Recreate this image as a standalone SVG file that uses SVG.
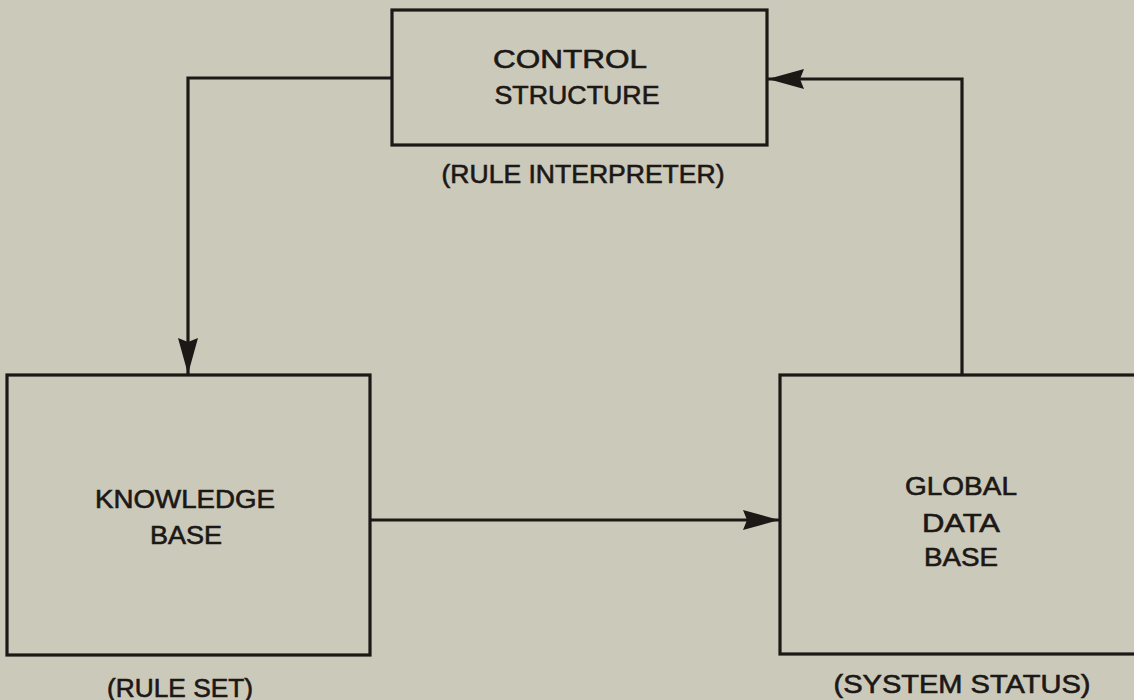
<svg xmlns="http://www.w3.org/2000/svg" width="1134" height="700" viewBox="0 0 1134 700">
<style>
.box{fill:none;stroke:#1c1816;stroke-width:3.2}
.wire{fill:none;stroke:#1c1816;stroke-width:3.2;stroke-linejoin:miter}
.t{font-family:"Liberation Sans",Arial,sans-serif;font-size:25px;fill:#1c1816;stroke:#1c1816;stroke-width:0.6;text-anchor:middle}
</style>
<defs>
<marker id="ah" markerUnits="userSpaceOnUse" markerWidth="38" markerHeight="22" refX="36" refY="10" orient="auto">
<path d="M0,0 L36,10 L0,20 L4,10 z" fill="#1c1816"/>
</marker>
</defs>
<rect width="1134" height="700" fill="#cbc9ba"/>
<g id="control">
<rect class="box" x="392" y="10" width="375" height="135"/>
<text class="t" x="570" y="68" textLength="154" lengthAdjust="spacingAndGlyphs">CONTROL</text>
<text class="t" x="577" y="104" textLength="165" lengthAdjust="spacingAndGlyphs">STRUCTURE</text>
<text class="t" x="583" y="183" textLength="283" lengthAdjust="spacingAndGlyphs">(RULE INTERPRETER)</text>
</g>
<g id="knowledge">
<rect class="box" x="7" y="375" width="363" height="280"/>
<text class="t" x="185" y="508" textLength="180" lengthAdjust="spacingAndGlyphs">KNOWLEDGE</text>
<text class="t" x="186" y="544" textLength="72" lengthAdjust="spacingAndGlyphs">BASE</text>
<text class="t" x="180" y="697" textLength="146" lengthAdjust="spacingAndGlyphs">(RULE SET)</text>
</g>
<g id="globaldb">
<rect class="box" x="780" y="375" width="400" height="279"/>
<text class="t" x="961" y="495" textLength="112" lengthAdjust="spacingAndGlyphs">GLOBAL</text>
<text class="t" x="961" y="532" textLength="78" lengthAdjust="spacingAndGlyphs">DATA</text>
<text class="t" x="961" y="566" textLength="74" lengthAdjust="spacingAndGlyphs">BASE</text>
<text class="t" x="962" y="693" textLength="257" lengthAdjust="spacingAndGlyphs">(SYSTEM STATUS)</text>
</g>
<g id="connectors">
<path class="wire" d="M392,78 H188 V374" marker-end="url(#ah)"/>
<path class="wire" d="M370,520 H779" marker-end="url(#ah)"/>
<path class="wire" d="M962,375 V79 H768" marker-end="url(#ah)"/>
</g>
</svg>
